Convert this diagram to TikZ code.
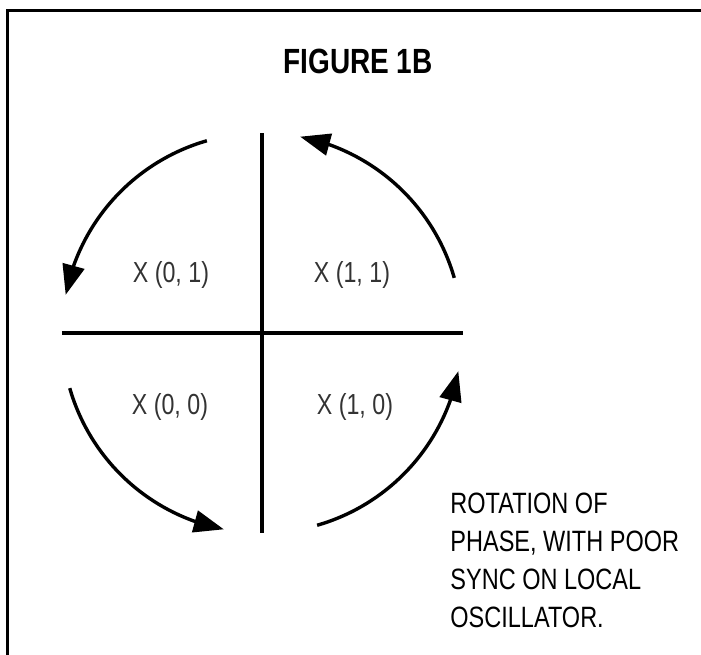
\documentclass[tikz,border=0pt]{standalone}
\usepackage{fontspec}
\setmainfont{Liberation Sans}[FakeStretch=0.8]
\usetikzlibrary{arrows.meta,bending}

\begin{document}
\begin{tikzpicture}[
  x=0.5pt, y=0.5pt,
  arr/.style={-{Triangle[length=15pt,width=11pt]},line width=1.7pt},
  axis/.style={line width=1.6pt},
  lbl/.style={anchor=base,inner sep=0pt,text=black!80,font=\fontsize{14.5}{17}\selectfont},
  note/.style={anchor=north west,inner sep=0pt,align=left,font=\fontsize{14.7}{19}\selectfont}
]
  \useasboundingbox (-262,-321) rectangle (439,333);
  % frame
  \draw[line width=1.5pt] (-254,-330) -- (-254,322.5) -- (450,322.5);
  \node[anchor=base,inner sep=0pt,font=\bfseries\fontsize{17.5}{20}\selectfont] (title) at (96,260) {FIGURE 1B};

  % axes
  \coordinate (O) at (0,0);
  \draw[axis] (0,200) -- (0,-200);
  \draw[axis] (-200,0) -- (201,0);

  % quadrant labels
  \node[lbl] (q01) at (-91,51)  {X (0, 1)};
  \node[lbl] (q11) at (90,51)   {X (1, 1)};
  \node[lbl] (q00) at (-92,-81) {X (0, 0)};
  \node[lbl] (q10) at (93,-81)  {X (1, 0)};

  % rotation arrows
  \foreach \a in {0,90,180,270}
    \draw[arr] (\a+16:200) arc[start angle=\a+16,end angle=\a+79,radius=200];

  \node[note] (rot) at (188,-160) {ROTATION OF\\PHASE, WITH POOR\\SYNC ON LOCAL\\OSCILLATOR.};
\end{tikzpicture}
\end{document}
